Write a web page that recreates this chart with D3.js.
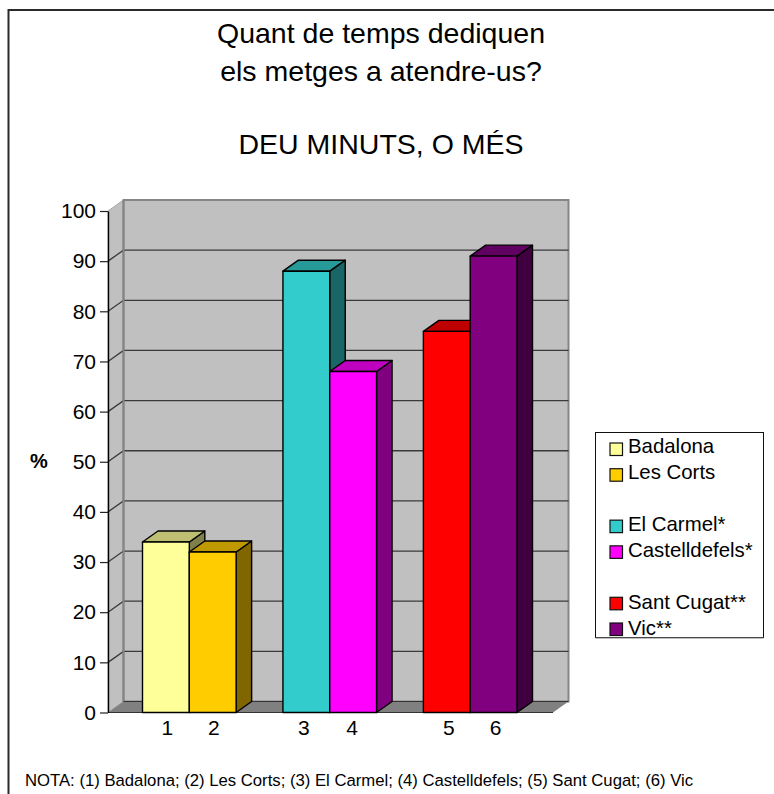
<!DOCTYPE html>
<html>
<head>
<meta charset="utf-8">
<script src="https://cdn.jsdelivr.net/npm/d3@7"></script>
<style>
  html, body { margin: 0; padding: 0; background: #fff; overflow: hidden; }
  svg { display: block; font-family: "Liberation Sans", Arial, sans-serif; }
</style>
</head>
<body>
<div id="chart"></div>
<script>
// Chart data
var categories = ['1', '2', 'gap1', '3', '4', 'gap2', '5', '6'];
var barLabels = ['1', '2', '3', '4', '5', '6'];
var barValues = [34, 32, 88, 68, 76, 91];
var barColors = ['#ffff99', '#ffcc00', '#33cccc', '#ff00ff', '#ff0000', '#800080'];
var yTicks = [0, 10, 20, 30, 40, 50, 60, 70, 80, 90, 100];
var titleLines = ['Quant de temps dediquen', 'els metges a atendre-us?', 'DEU MINUTS, O MÉS'];
var legendRows = ['Badalona', 'Les Corts', '', 'El Carmel*', 'Castelldefels*', '', 'Sant Cugat**', 'Vic**'];
var legendColors = ['#ffff99', '#ffcc00', null, '#33cccc', '#ff00ff', null, '#ff0000', '#800080'];
var noteText = 'NOTA: (1) Badalona; (2) Les Corts; (3) El Carmel; (4) Castelldefels; (5) Sant Cugat; (6) Vic';

// Properties
var width = 774, height = 794;
var plot = {left: 108, right: 553, top: 211, bottom: 712.5};
var depthX = 15.5, depthY = 11;
var labelNudge = [1.5, 1, -2.5, -1, 2, 2];

var svg = d3.select('#chart').append('svg')
  .attr('width', width)
  .attr('height', height);

var x = d3.scaleBand()
  .domain(categories)
  .range([142.5, 517]);

var y = d3.scaleLinear()
  .domain([0, 100])
  .range([plot.bottom, plot.top]);

function poly(points) {
  return d3.line()(points) + 'Z';
}

// Outer frame, open on the right and the bottom
svg.append('path')
  .attr('d', d3.line()([[8.5, height], [8.5, 10], [width, 10]]))
  .attr('fill', 'none')
  .attr('stroke', '#2b2b2b')
  .attr('stroke-width', 2);

// Title
svg.selectAll('.title')
  .data(titleLines)
  .enter()
  .append('text')
  .attr('class', 'title')
  .attr('x', 381)
  .attr('y', function(d, i) { return [43, 80.5, 154][i]; })
  .attr('text-anchor', 'middle')
  .attr('font-size', 28.5)
  .attr('fill', '#000')
  .text(function(d) { return d; });

// Walls and floor
var walls = svg.append('g');
var back = {left: plot.left + depthX, right: plot.right + depthX};

walls.append('path')
  .attr('d', poly([[plot.left, y(0)], [plot.left, y(100)], [back.left, y(100) - depthY], [back.left, y(0) - depthY]]))
  .attr('fill', '#c0c0c0')
  .attr('stroke', '#a6a6a6');

walls.append('rect')
  .attr('x', back.left)
  .attr('y', y(100) - depthY)
  .attr('width', back.right - back.left)
  .attr('height', y(0) - y(100))
  .attr('fill', '#c0c0c0')
  .attr('stroke', '#868686')
  .attr('stroke-width', 2);

walls.append('path')
  .attr('d', poly([[plot.left, y(0)], [back.left, y(0) - depthY], [back.right, y(0) - depthY], [plot.right, y(0)]]))
  .attr('fill', '#808080');

// Grid lines on the left and back walls
var grid = yTicks.filter(function(d) { return d > 0 && d < 100; });
walls.selectAll('.grid')
  .data(grid)
  .enter()
  .append('path')
  .attr('class', 'grid')
  .attr('d', function(d) {
    return d3.line()([[plot.left, y(d)], [back.left, y(d) - depthY], [back.right, y(d) - depthY]]);
  })
  .attr('fill', 'none')
  .attr('stroke', '#3a3a3a')
  .attr('stroke-width', 1.3);

walls.append('line')
  .attr('x1', back.left)
  .attr('x2', back.left)
  .attr('y1', y(100) - depthY)
  .attr('y2', y(0) - depthY)
  .attr('stroke', '#868686')
  .attr('stroke-width', 2);

walls.append('line')
  .attr('x1', back.left)
  .attr('x2', back.right)
  .attr('y1', y(0) - depthY)
  .attr('y2', y(0) - depthY)
  .attr('stroke', '#333')
  .attr('stroke-width', 1);

walls.append('line')
  .attr('x1', plot.left)
  .attr('x2', plot.right)
  .attr('y1', y(0))
  .attr('y2', y(0))
  .attr('stroke', '#333')
  .attr('stroke-width', 1);

// Bars: side and top first, then the front
var bars = svg.selectAll('.bar')
  .data(barValues)
  .enter()
  .append('g')
  .attr('class', 'bar')
  .attr('stroke', '#000')
  .attr('stroke-width', 1.4)
  .attr('stroke-linejoin', 'round');

function shade(color, k) {
  var c = d3.rgb(color);
  return d3.rgb(c.r * k, c.g * k, c.b * k).formatHex();
}

bars.append('path')
  .attr('d', function(d, i) {
    var x1 = x(barLabels[i]) + x.bandwidth();
    return poly([[x1, y(0)], [x1, y(d)], [x1 + depthX, y(d) - depthY], [x1 + depthX, y(0) - depthY]]);
  })
  .attr('fill', function(d, i) { return shade(barColors[i], 0.5); });

bars.append('path')
  .attr('d', function(d, i) {
    var x0 = x(barLabels[i]), x1 = x0 + x.bandwidth();
    return poly([[x0, y(d)], [x0 + depthX, y(d) - depthY], [x1 + depthX, y(d) - depthY], [x1, y(d)]]);
  })
  .attr('fill', function(d, i) { return shade(barColors[i], 0.75); });

bars.append('rect')
  .attr('x', function(d, i) { return x(barLabels[i]); })
  .attr('y', function(d) { return y(d); })
  .attr('width', x.bandwidth())
  .attr('height', function(d) { return y(0) - y(d); })
  .attr('fill', function(d, i) { return barColors[i]; });

// Y axis
var yAxis = d3.axisLeft(y)
  .tickValues(yTicks)
  .tickSize(8)
  .tickSizeOuter(0)
  .tickPadding(4);

var yG = svg.append('g')
  .attr('transform', 'translate(' + plot.left + ',0)')
  .call(yAxis);
yG.select('.domain').attr('stroke', '#000').attr('stroke-width', 1.4);
yG.selectAll('.tick line').attr('stroke', '#222').attr('stroke-width', 1.2);
yG.selectAll('.tick text')
  .attr('font-family', '"Liberation Sans", Arial, sans-serif')
  .attr('font-size', 21)
  .attr('fill', '#000');

// Category labels
svg.selectAll('.cat')
  .data(barLabels)
  .enter()
  .append('text')
  .attr('class', 'cat')
  .attr('x', function(d, i) { return x(d) + x.bandwidth() / 2 + labelNudge[i]; })
  .attr('y', 735)
  .attr('text-anchor', 'middle')
  .attr('font-size', 21)
  .attr('fill', '#000')
  .text(function(d) { return d; });

// Y axis title
svg.append('text')
  .attr('x', 39)
  .attr('y', 468)
  .attr('text-anchor', 'middle')
  .attr('font-size', 20)
  .attr('font-weight', 'bold')
  .attr('fill', '#000')
  .text('%');

// Legend
var legendY = d3.scaleLinear().domain([0, legendRows.length - 1]).range([452.7, 635]);
var swatchY = d3.scaleLinear().domain([0, legendRows.length - 1]).range([455, 635]);

svg.append('rect')
  .attr('x', 595.5)
  .attr('y', 432.5)
  .attr('width', 168)
  .attr('height', 205)
  .attr('fill', '#fff')
  .attr('stroke', '#111')
  .attr('stroke-width', 1);

svg.append('line')
  .attr('x1', 595.5)
  .attr('x2', 763.5)
  .attr('y1', 638)
  .attr('y2', 638)
  .attr('stroke', '#808080')
  .attr('stroke-width', 1);

var rows = svg.selectAll('.legend-row')
  .data(legendRows)
  .enter()
  .filter(function(d) { return d !== ''; })
  .append('g')
  .attr('class', 'legend-row');

rows.append('rect')
  .attr('x', 610)
  .attr('y', function(d) { return swatchY(legendRows.indexOf(d)) - 12; })
  .attr('width', 12.5)
  .attr('height', 12.5)
  .attr('fill', function(d) { return legendColors[legendRows.indexOf(d)]; })
  .attr('stroke', '#111')
  .attr('stroke-width', 1.2);

rows.append('text')
  .attr('x', 628)
  .attr('y', function(d) { return legendY(legendRows.indexOf(d)); })
  .attr('font-size', 20.4)
  .attr('fill', '#000')
  .text(function(d) { return d; });

// Note
svg.append('text')
  .attr('x', 25)
  .attr('y', 786)
  .attr('font-size', 16.7)
  .attr('fill', '#000')
  .text(noteText);
</script>
</body>
</html>
